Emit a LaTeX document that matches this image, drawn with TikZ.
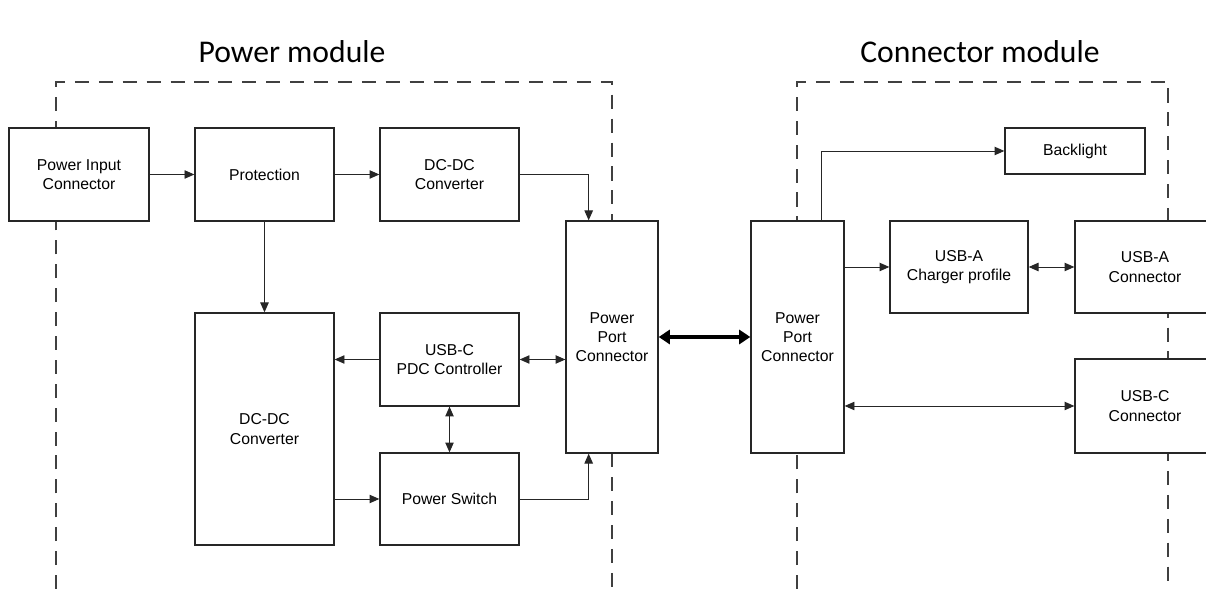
\documentclass[tikz,border=0pt]{standalone}
\usepackage{fontspec}
\usepackage{tikz}
\usetikzlibrary{arrows.meta}
\usetikzlibrary{calc}
\newfontfamily\boxfont{Liberation Sans}
\newfontfamily\titlefont{Carlito}

\begin{document}
\begin{tikzpicture}[x=0.025cm, y=-0.025cm, line join=miter,
        block_style/.style={rectangle,draw=black!85,line width=0.9pt,fill=white,align=center,inner sep=2pt,
            font=\boxfont\fontsize{11.2}{13.7}\selectfont},
        wide_block/.style={block_style,minimum width=3.5cm,minimum height=2.325cm},
        tall_block/.style={block_style,minimum width=3.475cm,minimum height=5.8cm},
        port_block/.style={block_style,minimum width=2.3cm,minimum height=5.8cm},
        title_style/.style={font=\titlefont\fontsize{22.5}{27}\selectfont},
        frame_style/.style={draw=black!75,line width=0.9pt,dash pattern=on 10pt off 7pt},
        edge_style/.style={draw=black!85,line width=0.7pt,-{Triangle[length=7pt,width=6pt]}},
        both_edge_style/.style={draw=black!85,line width=0.7pt,{Triangle[length=7pt,width=6pt]}-{Triangle[length=7pt,width=6pt]}},
        bus_edge_style/.style={draw=black,line width=2.2pt,{Triangle[length=8pt,width=10pt]}-{Triangle[length=8pt,width=10pt]}}]

        \useasboundingbox (0,0) rectangle (1206,589);

        % module titles
        \node [title_style](t1) at (292,52) {Power module};
        \node [title_style](t2) at (980,52) {Connector module};

        % module frames
        \draw [frame_style] (56,589) -- (56,82) -- (612,82) -- (612,589);
        \draw [frame_style] (797,589) -- (797,82) -- (1168,82) -- (1168,589);

        % power module
        \node [wide_block](pic) at (79,174.5) {Power Input\\Connector};
        \node [wide_block,minimum width=3.475cm](prot) at (264.5,174.5) {Protection};
        \node [wide_block,minimum width=3.475cm](dc1) at (449.5,174.5) {DC-DC\\Converter};
        \node [tall_block](dc2) at (264.5,429) {DC-DC\\Converter};
        \node [wide_block,minimum width=3.475cm](pdc) at (449.5,359.5) {USB-C\\PDC Controller};
        \node [wide_block,minimum width=3.475cm,minimum height=2.3cm](psw) at (449.5,499) {Power Switch};
        \node [port_block](ppl) at (612,337) {Power\\Port\\Connector};

        % connector module
        \node [port_block,minimum width=2.325cm](ppr) at (797.5,337) {Power\\Port\\Connector};
        \node [wide_block,minimum height=1.15cm](bl) at (1075,151) {Backlight};
        \node [wide_block,minimum width=3.45cm,minimum height=2.3cm](uap) at (959,267) {USB-A\\Charger profile};
        \node [wide_block,minimum height=2.3cm](uac) at (1145,267) {USB-A\\Connector};
        \node [wide_block,minimum height=2.35cm](ucc) at (1145,406) {USB-C\\Connector};

        \coordinate (pplt) at ($(ppl.north west)!0.25!(ppl.north east)$);
        \coordinate (pplb) at ($(ppl.south west)!0.25!(ppl.south east)$);
        \coordinate (pprt) at ($(ppr.north west)!0.75!(ppr.north east)$);

        \draw [edge_style] (pic) -- (prot);
        \draw [edge_style] (prot) -- (dc1);
        \draw [edge_style] (dc1.east) -| (pplt);
        \draw [edge_style] (prot) -- (dc2);
        \draw [edge_style] (pdc.west) -- (pdc.west -| dc2.east);
        \draw [both_edge_style] (pdc.east) -- (pdc.east -| ppl.west);
        \draw [both_edge_style] (pdc) -- (psw);
        \draw [edge_style] (psw.west -| dc2.east) -- (psw.west);
        \draw [edge_style] (psw.east) -| (pplb);
        \draw [bus_edge_style] (ppl) -- (ppr);
        \draw [edge_style] (pprt) |- (bl.west);
        \draw [edge_style] (uap.west -| ppr.east) -- (uap.west);
        \draw [both_edge_style] (uap) -- (uac);
        \draw [both_edge_style] (ucc.west -| ppr.east) -- (ucc.west);
\end{tikzpicture}
\end{document}
